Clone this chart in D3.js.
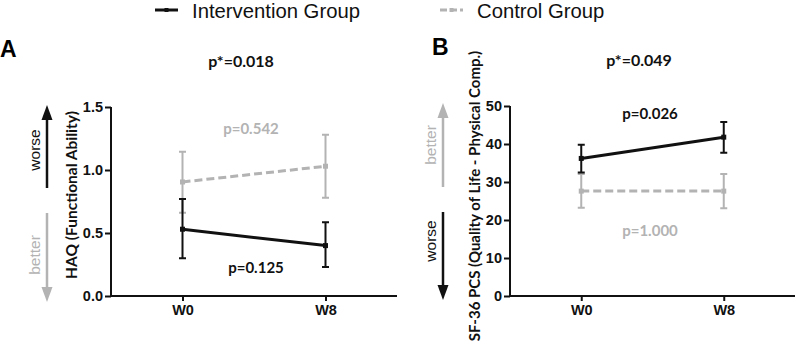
<!DOCTYPE html>
<html>
<head>
<meta charset="utf-8">
<script src="https://cdn.jsdelivr.net/npm/d3@7"></script>
<style>
  body { margin: 0; background: #fff; }
  .ptext { font-family: Lato, "Open Sans", sans-serif; font-weight: bold; }
</style>
</head>
<body>
<div class="content"></div>
<script>
// time points on the x axis
var timepoints = ["W0", "W8"];

// panel A - HAQ
var haqInt = [0.53, 0.40],
  haqIntLow = [0.30, 0.23],
  haqIntHigh = [0.77, 0.585];
var haqCtl = [0.905, 1.03],
  haqCtlLow = [0.66, 0.78],
  haqCtlHigh = [1.145, 1.28];
var haqTicks = [0, 0.5, 1.0, 1.5];

// panel B - SF-36 PCS
var sfInt = [36.2, 41.8],
  sfIntLow = [32.5, 37.7],
  sfIntHigh = [39.8, 45.8];
var sfCtl = [27.6, 27.6],
  sfCtlLow = [23.2, 23.1],
  sfCtlHigh = [32.1, 32.1];
var sfTicks = [0, 10, 20, 30, 40, 50];

var legendLabels = ["Intervention Group", "Control Group"];

var black = "#111", grey = "#b3b3b3";

var svg = d3.select(".content").append("svg")
  .attr("width", 796)
  .attr("height", 344);

// legend
var legend = [
  { label: legendLabels[0], x: 155, color: black, dash: null },
  { label: legendLabels[1], x: 440, color: grey, dash: "7,3" }
];
var lg = svg.selectAll(".lg").data(legend).enter().append("g")
  .attr("class", "lg")
  .attr("transform", function (d) { return "translate(" + d.x + ",10)"; });
lg.append("line")
  .attr("x1", 0).attr("x2", 23)
  .attr("stroke", function (d) { return d.color; })
  .attr("stroke-width", 3)
  .attr("stroke-dasharray", function (d) { return d.dash; });
lg.append("rect")
  .attr("x", 9.5).attr("y", -2).attr("width", 4).attr("height", 4)
  .attr("fill", function (d) { return d.color; });
lg.append("text")
  .attr("x", 37).attr("y", 7.5)
  .style("font-family", "'Liberation Sans', Arial, sans-serif")
  .style("font-size", "20.3px")
  .attr("fill", "#111")
  .text(function (d) { return d.label; });

function drawPanel(cfg) {
  var x = d3.scalePoint().domain(timepoints).range([cfg.left, cfg.right]).padding(0.5);
  var y = d3.scaleLinear().domain(cfg.domain).range([296, cfg.top]);
  var g = svg.append("g");

  // letter
  g.append("text")
    .attr("x", cfg.letterX).attr("y", cfg.letterY)
    .style("font-family", "'Liberation Sans', Arial, sans-serif")
    .style("font-weight", "bold").style("font-size", "23px")
    .attr("fill", "#000")
    .text(cfg.letter);

  // axes
  var yAxis = g.append("g")
    .attr("transform", "translate(" + cfg.left + ",0)")
    .call(d3.axisLeft(y).tickValues(cfg.ticks).tickFormat(cfg.fmt).tickSize(6).tickPadding(2));
  var xAxis = g.append("g")
    .attr("transform", "translate(0,296)")
    .call(d3.axisBottom(x).tickSize(5).tickPadding(4));
  [yAxis, xAxis].forEach(function (a) {
    a.select(".domain").attr("stroke", black).attr("stroke-width", 2);
    a.selectAll(".tick line").attr("stroke", black).attr("stroke-width", 2);
    a.selectAll(".tick text")
      .style("font-family", "'Liberation Sans', Arial, sans-serif")
      .style("font-weight", "bold")
      .style("font-size", "14.5px")
      .attr("fill", "#111");
  });
  yAxis.select(".domain").attr("d", "M0," + (cfg.top) + "V296");
  xAxis.select(".domain").attr("d", "M" + cfg.left + ",0H" + cfg.right);

  // y title
  g.append("text")
    .attr("class", "ptext")
    .attr("transform", "translate(" + cfg.titleX + "," + cfg.titleY + ") rotate(-90)")
    .attr("text-anchor", "middle")
    .style("font-size", cfg.titleSize + "px")
    .attr("fill", "#111")
    .text(cfg.title);

  // direction arrows
  cfg.arrows.forEach(function (a) {
    var ag = g.append("g");
    ag.append("line")
      .attr("x1", cfg.arrowX).attr("x2", cfg.arrowX)
      .attr("y1", a.from).attr("y2", a.to + (a.to < a.from ? 12 : -12))
      .attr("stroke", a.color).attr("stroke-width", 2.5);
    var s = a.to < a.from ? 1 : -1;
    ag.append("path")
      .attr("d", "M" + cfg.arrowX + "," + a.to +
        "L" + (cfg.arrowX - 5.5) + "," + (a.to + s * 15) +
        "L" + (cfg.arrowX + 5.5) + "," + (a.to + s * 15) + "Z")
      .attr("fill", a.color);
    ag.append("text")
      .attr("transform", "translate(" + (cfg.arrowX - 7) + "," + a.textY + ") rotate(-90)")
      .attr("text-anchor", "middle")
      .style("font-family", "'Liberation Sans', Arial, sans-serif")
      .style("font-size", "15.5px")
      .attr("fill", a.color)
      .text(a.label);
  });

  // series: control first, intervention on top
  cfg.series.forEach(function (s) {
    var pts = timepoints.map(function (t, i) {
      return { t: t, v: s.values[i], lo: s.low[i], hi: s.high[i] };
    });
    var sg = g.append("g");
    sg.selectAll(".eb").data(pts).enter().append("path")
      .attr("d", function (d) {
        var cx = x(d.t);
        return "M" + cx + "," + y(d.lo) + "V" + y(d.hi) +
          "M" + (cx - 3.5) + "," + y(d.lo) + "H" + (cx + 3.5) +
          "M" + (cx - 3.5) + "," + y(d.hi) + "H" + (cx + 3.5);
      })
      .attr("fill", "none").attr("stroke", s.color).attr("stroke-width", 2);
    sg.append("path").datum(pts)
      .attr("d", d3.line().x(function (d) { return x(d.t); }).y(function (d) { return y(d.v); }))
      .attr("fill", "none").attr("stroke", s.color).attr("stroke-width", 3)
      .attr("stroke-dasharray", s.dash);
    sg.selectAll(".pt").data(pts).enter().append("rect")
      .attr("x", function (d) { return x(d.t) - 2.5; })
      .attr("y", function (d) { return y(d.v) - 2.5; })
      .attr("width", 5).attr("height", 5)
      .attr("fill", s.color);
  });

  // p-values
  cfg.pvals.forEach(function (p) {
    g.append("text")
      .attr("class", "ptext")
      .attr("x", p.x).attr("y", p.y)
      .attr("text-anchor", "middle")
      .style("font-size", p.size + "px")
      .attr("fill", p.color)
      .text(p.text);
  });
}

drawPanel({
  letter: "A", letterX: 0, letterY: 57,
  left: 111, right: 397, top: 107,
  domain: [0, 1.5], ticks: haqTicks, fmt: d3.format(".1f"),
  title: "HAQ (Functional Ability)", titleX: 77, titleY: 195, titleSize: 15.5,
  arrowX: 47,
  arrows: [
    { from: 188, to: 105, color: black, label: "worse", textY: 150 },
    { from: 213, to: 302, color: grey, label: "better", textY: 255 }
  ],
  series: [
    { values: haqCtl, low: haqCtlLow, high: haqCtlHigh, color: grey, dash: "8,4" },
    { values: haqInt, low: haqIntLow, high: haqIntHigh, color: black, dash: null }
  ],
  pvals: [
    { text: "p*=0.018", x: 241, y: 67, color: black, size: 16 },
    { text: "p=0.542", x: 251, y: 134, color: grey, size: 15 },
    { text: "p=0.125", x: 256, y: 273, color: black, size: 15 }
  ]
});

drawPanel({
  letter: "B", letterX: 432, letterY: 55,
  left: 510, right: 795, top: 106,
  domain: [0, 50], ticks: sfTicks, fmt: d3.format("d"),
  title: "SF-36 PCS (Quality of Life - Physical Comp.)", titleX: 480, titleY: 196, titleSize: 15,
  arrowX: 443,
  arrows: [
    { from: 187, to: 103, color: grey, label: "better", textY: 145 },
    { from: 212, to: 300, color: black, label: "worse", textY: 241 }
  ],
  series: [
    { values: sfCtl, low: sfCtlLow, high: sfCtlHigh, color: grey, dash: "8,4" },
    { values: sfInt, low: sfIntLow, high: sfIntHigh, color: black, dash: null }
  ],
  pvals: [
    { text: "p*=0.049", x: 639, y: 66, color: black, size: 16 },
    { text: "p=0.026", x: 650, y: 119, color: black, size: 15 },
    { text: "p=1.000", x: 650, y: 236, color: grey, size: 15 }
  ]
});
</script>
</body>
</html>
